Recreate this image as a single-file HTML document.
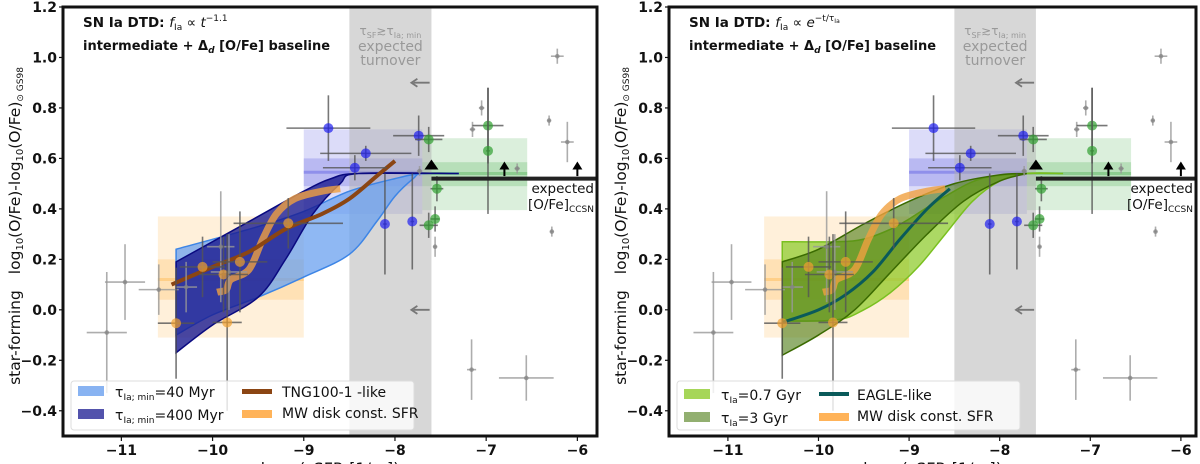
<!DOCTYPE html>
<html><head><meta charset="utf-8"><style>
html,body{margin:0;padding:0;background:#fff;}
svg{display:block;font-family:"DejaVu Sans","Liberation Sans",sans-serif;}
</style></head><body>
<svg id="fig" width="1200" height="464" viewBox="0 0 1200 464" xmlns="http://www.w3.org/2000/svg"></svg>
<script>
// ---- data (shared observations) ----
const grayX=[-11.16,-10.96,-10.59,-10.29,-9.91,-9.82,-7.56,-7.15,-7.05,-6.31,-6.22,-6.11,-6.28,-7.16,-6.56,-6.66,-7.73];
const grayY=[-0.09,0.11,0.08,0.09,0.25,0.15,0.25,0.715,0.80,0.75,1.005,0.665,0.31,-0.237,-0.27,0.56,0.55];
const grayXe=[0.22,0.22,0.22,0.12,0.15,0.2,0.02,0.03,0.03,0.02,0.07,0.07,0.02,0.05,0.3,0.03,0.03];
const grayYe=[0.24,0.15,0.1,0.1,0.22,0.15,0.04,0.03,0.03,0.02,0.03,0.08,0.02,0.12,0.09,0.02,0.02];
const blueX=[-8.73,-8.32,-8.44,-7.74,-8.11,-7.81];
const blueY=[0.72,0.62,0.563,0.69,0.34,0.35];
const blueXe=[0.46,0.5,0.35,0.28,0.02,0.02];
const blueYe=[0.13,0.03,0.05,0.08,0.2,0.19];
const greenX=[-7.63,-6.98,-6.98,-7.54,-7.56,-7.63];
const greenY=[0.675,0.73,0.63,0.48,0.36,0.335];
const greenXe=[0.15,0.17,0.02,0.07,0.05,0.1];
const greenYe=[0.05,0.15,0.25,0.05,0.05,0.05];
const orX=[-10.40,-10.11,-9.88,-9.70,-9.84,-9.17];
const orY=[-0.053,0.17,0.14,0.19,-0.05,0.343];
const orXe=[0.2,0.25,0.27,0.3,0.16,0.6];
const orYe=[0.22,0.12,0.15,0.2,0.35,0.1];
// boxes [x0,x1,outerLo,outerHi,innerLo,innerHi,mid]
const boxOrange=[-10.6,-9.0,-0.11,0.37,0.04,0.2,0.12];
const boxBlue=[-9.0,-7.7,0.38,0.715,0.49,0.6,0.545];
const boxGreen=[-7.7,-6.55,0.395,0.68,0.49,0.585,0.54];
const ccsnLevel=0.52;
const arrowX=[-7.6,-6.8,-6.0];
const leftArrowY=[0.9,0.0];
// ---- left panel models ----
const lbUpX=[-10.4,-9.5,-9,-8.5,-8,-7.7,-7.3];
const lbUpY=[0.24,0.33,0.39,0.47,0.52,0.54,0.54];
const lbLoX=[-10.4,-10,-9.5,-9,-8.5,-8.2,-8,-7.8,-7.7,-7.3];
const lbLoY=[-0.1,-0.02,0.05,0.13,0.22,0.35,0.45,0.52,0.54,0.54];
const dbUpX=[-10.4,-10,-9.5,-9,-8.7,-8.4,-7.3];
const dbUpY=[0.19,0.27,0.37,0.47,0.52,0.54,0.54];
const dbLoX=[-10.4,-10,-9.5,-9.2,-8.9,-8.6,-8.4,-7.3];
const dbLoY=[-0.17,-0.06,0.05,0.2,0.38,0.5,0.54,0.54];
const tngX=[-10.45,-10,-9.6,-9.2,-8.8,-8.5,-8.2,-8.0];
const tngY=[0.10,0.17,0.23,0.32,0.38,0.44,0.53,0.59];
const mwX=[-9.95,-9.85,-9.8,-9.6,-9.45,-9.3,-9.1,-8.8,-8.6];
const mwY=[0.07,0.08,0.12,0.16,0.28,0.38,0.44,0.47,0.48];
// ---- right panel models ----
const lgUpX=[-10.4,-9.8,-9.5,-9.2,-9,-8.6,-8.2,-7.7,-7.3];
const lgUpY=[0.27,0.27,0.28,0.32,0.36,0.45,0.52,0.54,0.54];
const lgLoX=[-10.4,-9.8,-9.5,-9.2,-8.9,-8.6,-8.3,-8,-7.7,-7.3];
const lgLoY=[-0.045,-0.04,0.0,0.07,0.17,0.3,0.43,0.51,0.54,0.54];
const olUpX=[-10.4,-10,-9.5,-9.0,-8.5,-8,-7.7];
const olUpY=[0.19,0.24,0.34,0.43,0.50,0.535,0.54];
const olLoX=[-10.4,-10,-9.6,-9.2,-8.8,-8.4,-8,-7.7];
const olLoY=[-0.18,-0.1,0.0,0.15,0.3,0.43,0.51,0.54];
const eagX=[-10.4,-10,-9.7,-9.4,-9.1,-8.8,-8.55];
const eagY=[-0.05,0.0,0.06,0.15,0.28,0.40,0.48];
const xTicks=[-11,-10,-9,-8,-7,-6];
const yTicks=[-0.4,-0.2,0.0,0.2,0.4,0.6,0.8,1.0,1.2];
const yTickLabels=["\u22120.4","\u22120.2","0.0","0.2","0.4","0.6","0.8","1.0","1.2"];

const NS="http://www.w3.org/2000/svg";
const svg=document.getElementById('fig');
function mk(tag,attrs,parent){const e=document.createElementNS(NS,tag);for(const k in attrs)e.setAttribute(k,attrs[k]);(parent||svg).appendChild(e);return e;}
function smooth(P,start){
  let d=(start?'M':'L')+P[0][0]+','+P[0][1];
  for(let i=0;i<P.length-1;i++){
    const p0=P[i-1]||P[i],p1=P[i],p2=P[i+1],p3=P[i+2]||P[i+1];
    const c1=[p1[0]+(p2[0]-p0[0])/6,p1[1]+(p2[1]-p0[1])/6];
    const c2=[p2[0]-(p3[0]-p1[0])/6,p2[1]-(p3[1]-p1[1])/6];
    d+=` C${c1[0]},${c1[1]} ${c2[0]},${c2[1]} ${p2[0]},${p2[1]}`;
  }
  return d;
}

function panel(P){
  const g=mk('g',{});
  
  
  const X=v=>P.x0+(v-P.xmin)*P.sx;
  const Y=v=>436-(v+0.5)*(429/1.7);
  const cp=mk('clipPath',{id:P.name+'-clip'},g);
  mk('rect',{x:P.x0,y:7,width:P.x1-P.x0,height:429},cp);
  const pg=mk('g',{'clip-path':'url(#'+P.name+'-clip)'},g);
  function poly(ux,uy,lx,ly,fill,stroke,op,name){
    const up=ux.map((v,i)=>[X(v),Y(uy[i])]);
    const lo=lx.map((v,i)=>[X(v),Y(ly[i])]).reverse();
    const d=smooth(up,true)+' '+smooth(lo,false)+'Z';
    const e=mk('path',{d:d,fill:fill,'fill-opacity':op,stroke:stroke,'stroke-width':1.5},pg);
    
  }
  function line(xs,ys,col,w,op,name){
    const e=mk('path',{d:smooth(xs.map((v,i)=>[X(v),Y(ys[i])]),true),fill:'none',stroke:col,'stroke-width':w,'stroke-opacity':op,'stroke-linecap':'butt','stroke-linejoin':'round'},pg);
    
  }
  function box(b,col,name){
    const a=mk('rect',{x:X(b[0]),y:Y(b[3]),width:X(b[1])-X(b[0]),height:Y(b[2])-Y(b[3]),fill:col,'fill-opacity':0.2},pg);
    
    const c=mk('rect',{x:X(b[0]),y:Y(b[5]),width:X(b[1])-X(b[0]),height:Y(b[4])-Y(b[5]),fill:col,'fill-opacity':0.25},pg);
    
    const m=mk('line',{x1:X(b[0]),x2:X(b[1]),y1:Y(b[6]),y2:Y(b[6]),stroke:col,'stroke-width':3,'stroke-opacity':0.4},pg);
    
  }
  box(boxOrange,'#ffb347','orange-box');
  box(boxBlue,'#5050e0','blue-box');
  box(boxGreen,'#4caf50','green-box');
  const band=mk('rect',{x:X(-8.5),y:7,width:X(-7.6)-X(-8.5),height:429,fill:'#b0b0b0','fill-opacity':0.5},pg);
  
  P.models(poly,line);
  function pts(xs,ys,xe,ye,col,r,ecol,name){
    xs.forEach((v,i)=>{
      const gg=mk('g',{},pg);
      
      mk('line',{x1:X(v-xe[i]),x2:X(v+xe[i]),y1:Y(ys[i]),y2:Y(ys[i]),stroke:ecol,'stroke-width':1.6,'stroke-opacity':0.8},gg);
      mk('line',{x1:X(v),x2:X(v),y1:Y(ys[i]-ye[i]),y2:Y(ys[i]+ye[i]),stroke:ecol,'stroke-width':1.6,'stroke-opacity':0.8},gg);
      mk('circle',{cx:X(v),cy:Y(ys[i]),r:r,fill:col,'fill-opacity':0.7},gg);
    });
  }
  pts(grayX,grayY,grayXe,grayYe,'#808080',2.3,'#999','gray-point');
  pts(orX,orY,orXe,orYe,'#f0a030',5,'#555','orange-point');
  pts(blueX,blueY,blueXe,blueYe,'#2020f0',5,'#555','blue-point');
  pts(greenX,greenY,greenXe,greenYe,'#30a030',5,'#555','green-point');
  const cl=mk('line',{x1:X(-7.6),x2:P.x1,y1:Y(ccsnLevel),y2:Y(ccsnLevel),stroke:'#222','stroke-width':4},pg);
  
  arrowX.forEach((v,i)=>{
    const a=mk('g',{},pg);
    const yb=Y(ccsnLevel+0.01),yt=Y(ccsnLevel+0.06);
    if(i>0) mk('line',{x1:X(v),x2:X(v),y1:yb,y2:yt+4,stroke:'#000','stroke-width':2},a);
    const s=i==0?7:5;
    mk('path',{d:`M${X(v)-s},${yt+6} L${X(v)},${yt-2-(s-5)} L${X(v)+s},${yt+6}Z`,fill:'#000'},a);
  });
  leftArrowY.forEach(v=>{
    const a=mk('g',{},pg);
    const xr=X(-7.62),xl=X(-7.82),yy=Y(v);
    mk('line',{x1:xl+2,x2:xr,y1:yy,y2:yy,stroke:'#777','stroke-width':1.8},a);
    mk('path',{d:`M${xl+6},${yy-4} L${xl},${yy} L${xl+6},${yy+4}`,fill:'none',stroke:'#777','stroke-width':1.8},a);
  });
  const fr=mk('rect',{x:P.x0,y:7,width:P.x1-P.x0,height:429,fill:'none',stroke:'#111','stroke-width':3},g);
  
  xTicks.forEach(v=>{
    mk('line',{x1:X(v),x2:X(v),y1:437,y2:441,stroke:'#111','stroke-width':1.2},g);
    const t=mk('text',{x:X(v),y:455,'text-anchor':'middle','font-size':14,'font-weight':'bold',fill:'#111'},g);
    t.textContent=v<0?'\u2212'+Math.abs(v):String(v);
    
  });
  yTicks.forEach((v,i)=>{
    mk('line',{x1:P.x0-4,x2:P.x0,y1:Y(v),y2:Y(v),stroke:'#111','stroke-width':1.2},g);
    const t=mk('text',{x:P.x0-6,y:Y(v)+5,'text-anchor':'end','font-size':14,'font-weight':'bold',fill:'#111'},g);
    t.textContent=yTickLabels[i];
    
  });
  const ht=mk('text',{x:P.x0+20,y:27,'font-size':13.5,'font-weight':'bold',fill:'#111'},g);
  ht.innerHTML=P.title;
  const h2=mk('text',{x:P.x0+20,y:50,'font-size':13,'font-weight':'bold',fill:'#111'},g);
  h2.innerHTML='intermediate + Δ<tspan font-style="italic" font-size="9" dy="3">d</tspan><tspan dy="-3"> [O/Fe] baseline</tspan>';
  
  const bx=(X(-8.5)+X(-7.6))/2;
  const t1=mk('text',{x:bx,y:35,'text-anchor':'middle','font-size':12,fill:'#999'},g);
  t1.innerHTML='τ<tspan font-size="8" dy="3">SF</tspan><tspan dy="-3">≳τ</tspan><tspan font-size="8" dy="3">Ia; min</tspan>';
  
  const t2=mk('text',{x:bx,y:51,'text-anchor':'middle','font-size':14,fill:'#999'},g);t2.textContent='expected';
  
  const t3=mk('text',{x:bx,y:65,'text-anchor':'middle','font-size':14,fill:'#999'},g);t3.textContent='turnover';
  
  const e1=mk('text',{x:P.x1-3,y:193,'text-anchor':'end','font-size':13.5,fill:'#111'},g);e1.textContent='expected';
  
  const e2=mk('text',{x:P.x1-3,y:209,'text-anchor':'end','font-size':13.5,fill:'#111'},g);
  e2.innerHTML='[O/Fe]<tspan font-size="9" dy="3">CCSN</tspan>';
  
  const lg=mk('g',{},g);
  mk('rect',{x:P.x0+8,y:381,width:343,height:49,rx:3,fill:'#fff','fill-opacity':0.8,stroke:'#ddd'},lg);
  P.legend.forEach(L=>{
    const it=mk('g',{},lg);
    if(L.patch) mk('rect',{x:P.x0+L.dx,y:L.y-6,width:26,height:10,fill:L.col,'fill-opacity':L.op},it);
    else mk('rect',{x:P.x0+L.dx,y:L.y-3,width:30,height:L.h,fill:L.col,'fill-opacity':L.op},it);
    const t=mk('text',{x:P.x0+L.dx+L.tx,y:L.y+5,'font-size':14,fill:'#111'},it);t.innerHTML=L.label;
  });
  const xl=mk('text',{x:(P.x0+P.x1)/2,y:474,'text-anchor':'middle','font-size':16,fill:'#111'},g);
  xl.innerHTML='log<tspan font-size="11" dy="3">10</tspan><tspan dy="-3">(sSFR [1/yr])</tspan>';
  
  const yl=mk('text',{x:0,y:0,'text-anchor':'middle','font-size':15.5,fill:'#111',transform:`translate(${P.x0-43},226) rotate(-90)`},g);
  yl.innerHTML='star-forming<tspan dx="16">log</tspan><tspan font-size="10" dy="3">10</tspan><tspan dy="-3">(O/Fe)-log</tspan><tspan font-size="10" dy="3">10</tspan><tspan dy="-3">(O/Fe)</tspan><tspan font-size="9" dy="3">⊙ GS98</tspan>';
  
}

const tauSub=s=>'τ<tspan font-size="9" dy="3">'+s+'</tspan><tspan dy="-3">';
panel({name:'left-panel',x0:63,x1:597,xmin:-11.64,sx:91.2,
  title:'SN Ia DTD: <tspan font-style="italic" font-weight="normal">f</tspan><tspan font-size="9" font-weight="normal" dy="3">Ia</tspan><tspan dy="-3" font-weight="normal"> ∝ </tspan><tspan font-style="italic" font-weight="normal">t</tspan><tspan font-size="9" font-weight="normal" dy="-6">−1.1</tspan>',
  models:(poly,line)=>{
    poly(lbUpX,lbUpY,lbLoX,lbLoY,'#6aa0ef','#3d85e6',0.75,'band-40myr');
    poly(dbUpX,dbUpY,dbLoX,dbLoY,'#1a1a90','#0a0a80',0.8,'band-400myr');
    line(mwX,mwY,'#f0a040',7,0.8,'mw-disk-line');
    line(tngX,tngY,'#8b4513',4,1,'tng-line');
  },
  legend:[
    {patch:1,dx:15,y:392,col:'#6aa0ef',op:0.8,tx:37,label:tauSub('Ia; min')+'=40 Myr</tspan>'},
    {patch:1,dx:15,y:415,col:'#1a1a90',op:0.75,tx:37,label:tauSub('Ia; min')+'=400 Myr</tspan>'},
    {dx:179,y:392,col:'#8b4513',op:1,h:5,tx:40,label:'TNG100-1 -like'},
    {dx:179,y:413,col:'#ffa030',op:0.8,h:8,tx:40,label:'MW disk const. SFR'}]
});
panel({name:'right-panel',x0:669,x1:1196,xmin:-11.65,sx:90.6,
  title:'SN Ia DTD: <tspan font-style="italic" font-weight="normal">f</tspan><tspan font-size="9" font-weight="normal" dy="3">Ia</tspan><tspan dy="-3" font-weight="normal"> ∝ </tspan><tspan font-style="italic" font-weight="normal">e</tspan><tspan font-size="9" font-weight="normal" dy="-6">−t/τ</tspan><tspan font-size="6" font-weight="normal" dy="2">Ia</tspan>',
  models:(poly,line)=>{
    poly(lgUpX,lgUpY,lgLoX,lgLoY,'#90cc30','#7ac020',0.75,'band-0.7gyr');
    poly(olUpX,olUpY,olLoX,olLoY,'#4a7a10','#3a6a00',0.6,'band-3gyr');
    line(mwX,mwY,'#f0a040',7,0.8,'mw-disk-line');
    line(eagX,eagY,'#0a5a5a',3,1,'eagle-line');
  },
  legend:[
    {patch:1,dx:15,y:395,col:'#90cc30',op:0.8,tx:37,label:tauSub('Ia')+'=0.7 Gyr</tspan>'},
    {patch:1,dx:15,y:418,col:'#4a7a10',op:0.6,tx:37,label:tauSub('Ia')+'=3 Gyr</tspan>'},
    {dx:150,y:395,col:'#0a5a5a',op:1,h:4,tx:38,label:'EAGLE-like'},
    {dx:150,y:416,col:'#ffa030',op:0.8,h:8,tx:38,label:'MW disk const. SFR'}]
});
</script>
</body></html>
